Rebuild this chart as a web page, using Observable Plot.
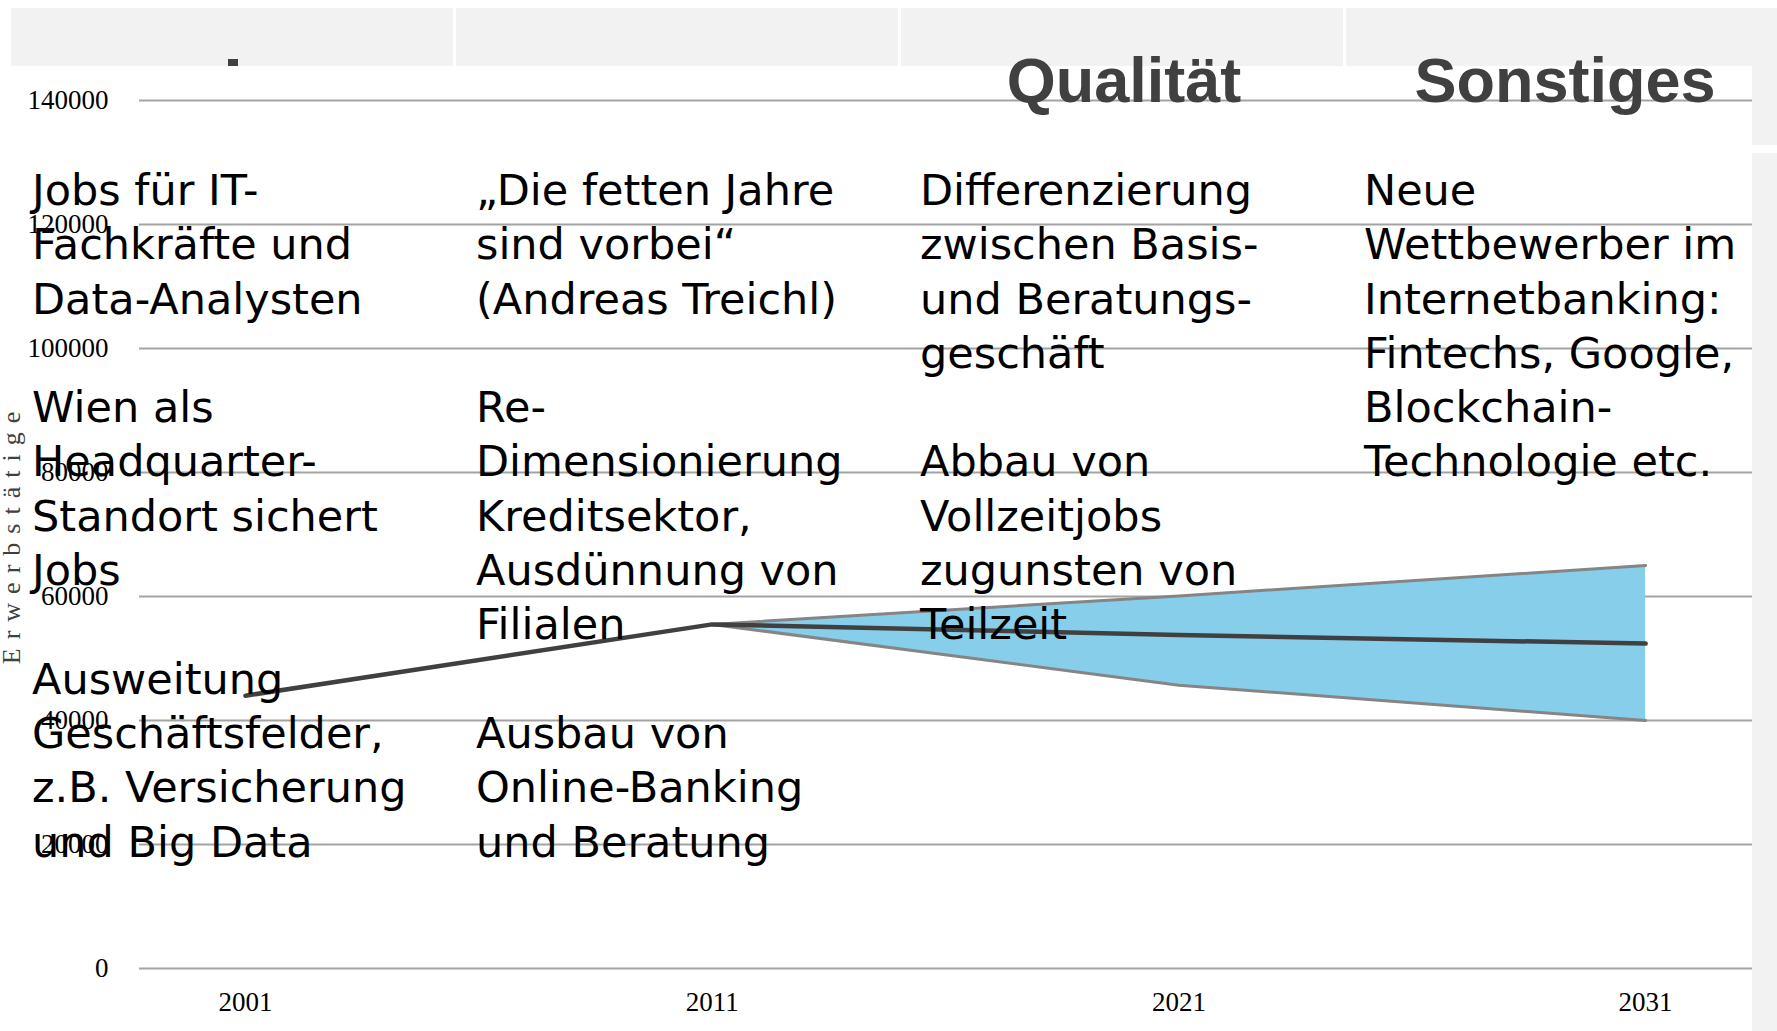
<!DOCTYPE html>
<html>
<head>
<meta charset="utf-8">
<script src="https://cdn.jsdelivr.net/npm/d3@7"></script>
<script src="https://cdn.jsdelivr.net/npm/@observablehq/plot@0.6"></script>
<style>
  html, body { margin: 0; padding: 0; background: #fff; }
  #wrap { position: relative; width: 1777px; height: 1031px; overflow: hidden; }
  #wrap svg { position: absolute; left: 0; top: 0; }
  .box { position: absolute; background: #f2f2f2; }
  .head { position: absolute; width: 440px; text-align: center; font-family: "Liberation Sans", Arial, sans-serif;
          font-weight: bold; font-size: 63px; line-height: 63px; color: #404040; white-space: nowrap; }
  .col { position: absolute; font-family: "DejaVu Sans", sans-serif; font-size: 43px; line-height: 54.3px;
         color: #000; white-space: pre; pointer-events: none; }
  .ylab { position: absolute; left: 12px; top: 538px; transform: translate(-50%, -50%) rotate(-90deg);
          font-family: "Liberation Serif", "Times New Roman", serif; font-size: 26px; letter-spacing: 9px;
          color: #404040; white-space: nowrap; line-height: 26px; padding-left: 9px; }
</style>
</head>
<body>
<div id="wrap"></div>
<script>
// ---- data ----
const years = [2001, 2011, 2021, 2031];
const erwerbstaetige = [44000, 55500, 53800, 52400];
const bandYears = [2011, 2021, 2031];
const bandLow = [55500, 45700, 40000];
const bandHigh = [55500, 60100, 65000];
const yTicks = [0, 20000, 40000, 60000, 80000, 100000, 120000, 140000];
const yLabel = "Erwerbstätige";
const headers = ["", "", "Qualität", "Sonstiges"];
const col1 = ["Jobs für IT-", "Fachkräfte und", "Data-Analysten", "", "Wien als", "Headquarter-", "Standort sichert", "Jobs", "", "Ausweitung", "Geschäftsfelder,", "z.B. Versicherung", "und Big Data"];
const col2 = ["„Die fetten Jahre", "sind vorbei“", "(Andreas Treichl)", "", "Re-", "Dimensionierung", "Kreditsektor,", "Ausdünnung von", "Filialen", "", "Ausbau von", "Online-Banking", "und Beratung"];
const col3 = ["Differenzierung", "zwischen Basis-", "und Beratungs-", "geschäft", "", "Abbau von", "Vollzeitjobs", "zugunsten von", "Teilzeit"];
const col4 = ["Neue", "Wettbewerber im", "Internetbanking:", "Fintechs, Google,", "Blockchain-", "Technologie etc."];

const main = years.map((y, i) => ({year: y, value: erwerbstaetige[i]}));
const band = bandYears.map((y, i) => ({year: y, low: bandLow[i], high: bandHigh[i]}));

const wrap = document.getElementById("wrap");

// header boxes (decoration)
const boxLeft = [11, 456, 901, 1346];
boxLeft.forEach(l => {
  const b = document.createElement("div");
  b.className = "box";
  b.style.left = l + "px"; b.style.top = "8px"; b.style.width = "442px"; b.style.height = "58px";
  wrap.appendChild(b);
});
[[66, 145], [153, 1031]].forEach(([t, bt]) => {
  const b = document.createElement("div");
  b.className = "box";
  b.style.left = "1752px"; b.style.top = t + "px"; b.style.width = "25px"; b.style.height = (bt - t) + "px";
  wrap.appendChild(b);
});

const chart = Plot.plot({
  width: 1777,
  height: 1031,
  marginLeft: 139,
  marginRight: 25,
  marginTop: 100,
  marginBottom: 63,
  style: {background: "transparent", fontFamily: "Liberation Serif, Times New Roman, serif", fontSize: "27px", color: "#000"},
  x: {type: "linear", domain: [1998.73, 2033.29]},
  y: {domain: [0, 140000]},
  marks: [
    Plot.ruleY(yTicks, {stroke: "#a3a3a3", strokeWidth: 2}),
    Plot.areaY(band, {x: "year", y1: "low", y2: "high", fill: "#87ceeb"}),
    Plot.lineY(band, {x: "year", y: "low", stroke: "#858585", strokeWidth: 3}),
    Plot.lineY(band, {x: "year", y: "high", stroke: "#858585", strokeWidth: 3}),
    Plot.lineY(main, {x: "year", y: "value", stroke: "#404040", strokeWidth: 4.5}),
    Plot.axisY({ticks: yTicks, tickSize: 0, tickPadding: 31, tickFormat: d => String(d), fontSize: 27, label: null}),
    Plot.axisX({ticks: years, tickSize: 0, tickPadding: 23, tickFormat: d => String(d), fontSize: 27, label: null})
  ]
});
wrap.appendChild(chart);

// y axis title
const yl = document.createElement("div");
yl.className = "ylab";
yl.textContent = yLabel;
wrap.appendChild(yl);

// small fragment of the hidden first header
const frag = document.createElement("div");
frag.style.cssText = "position:absolute;left:228px;top:59px;width:10px;height:7px;background:#404040;";
wrap.appendChild(frag);

// headers
const headCenters = [232, 677, 1124, 1565];
headers.forEach((h, i) => {
  if (!h) return;
  const d = document.createElement("div");
  d.className = "head";
  d.textContent = h;
  d.style.left = (headCenters[i] - 220) + "px";
  d.style.top = "49px";
  wrap.appendChild(d);
});

// annotation columns
[col1, col2, col3, col4].forEach((lines, i) => {
  const d = document.createElement("div");
  d.className = "col";
  d.textContent = lines.join("\n");
  d.style.left = (32 + 444 * i) + "px";
  d.style.top = "163px";
  wrap.appendChild(d);
});
</script>
</body>
</html>
